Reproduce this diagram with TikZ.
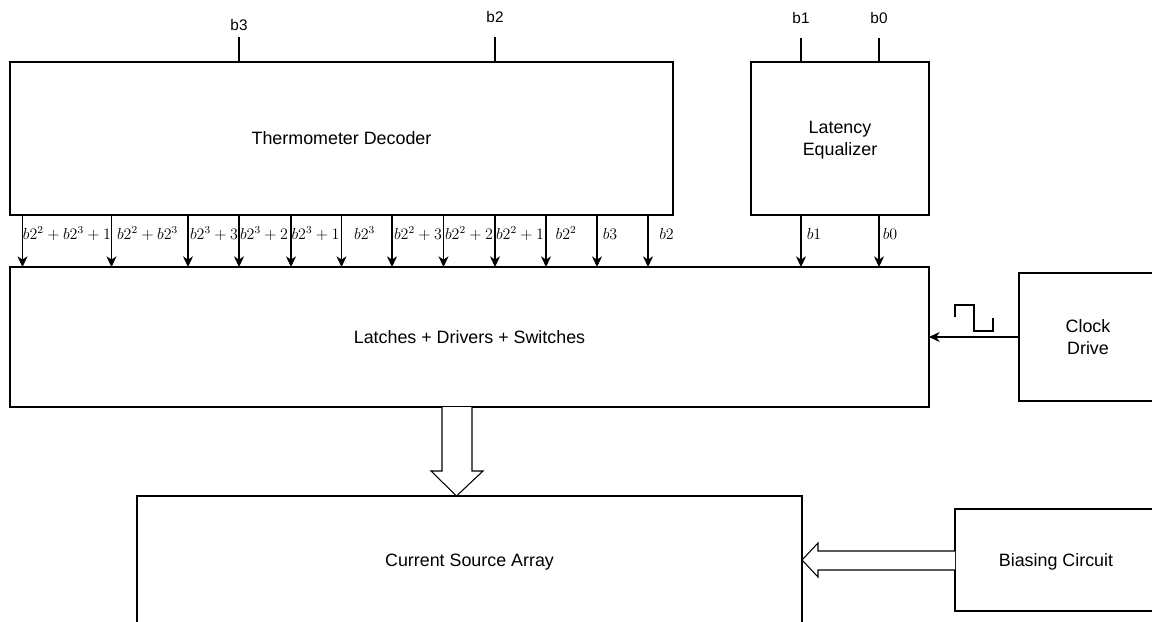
\documentclass[tikz,border=0pt]{standalone}
\usepackage{fontspec}
\setmainfont{Liberation Sans}
\usetikzlibrary{arrows.meta}
\begin{document}
\begin{tikzpicture}[x=0.75pt,y=-0.75pt,
  line width=0.8pt,
  box/.style={draw, rectangle, inner sep=0pt, outer sep=0pt, align=center,
    text depth=0pt, font=\fontsize{13.4}{16.5}\selectfont},
  sig/.style={-{Stealth[length=8pt,width=7.5pt,inset=2.5pt]}},
  inlab/.style={font=\fontsize{11.5}{13}\selectfont, inner sep=0pt},
  mlab/.style={font=\fontsize{11.7}{13}\selectfont, inner sep=0pt, anchor=base},
  fat/.style={draw, fill=white, line width=0.8pt}]
\clip (0,0) rectangle (1152,621);
\fill[white] (0,0) rectangle (1152,621);

% boxes
\node[box, minimum width=663*0.75pt, minimum height=153*0.75pt] (td) at (341.5,138.5) {Thermometer Decoder};
\node[box, minimum width=178*0.75pt, minimum height=153*0.75pt] (le) at (840,138.5) {Latency\\Equalizer};
\node[box, minimum width=919*0.75pt, minimum height=140*0.75pt] (ld) at (469.5,337) {Latches + Drivers + Switches};
\node[box, minimum width=138*0.75pt, minimum height=128*0.75pt] (cd) at (1088,337) {Clock\\Drive};
\node[box, minimum width=665*0.75pt, minimum height=128*0.75pt] (cs) at (469.5,560) {Current Source Array};
\node[box, minimum width=202*0.75pt, minimum height=102*0.75pt] (bc) at (1056,560) {Biasing Circuit};

% top inputs
\coordinate (i3) at (239,37);
\coordinate (i2) at (495,37);
\coordinate (i1) at (801,38);
\coordinate (i0) at (879,38);
\draw (i3) -- (i3 |- td.north);
\draw (i2) -- (i2 |- td.north);
\draw (i1) -- (i1 |- le.north);
\draw (i0) -- (i0 |- le.north);
\node[inlab] (t3) at (239,25) {b3};
\node[inlab] (t2) at (495,17.5) {b2};
\node[inlab] (t1) at (801,18) {b1};
\node[inlab] (t0) at (879,18) {b0};

% decoder outputs
\foreach \x/\lx/\l [count=\k] in {22.5/67/{b2^2+b2^3+1}, 111.5/147.5/{b2^2+b2^3}, 188/214/{b2^3+3},
  239/264/{b2^3+2}, 291/315.5/{b2^3+1}, 341.5/364.5/{b2^3}, 392/418/{b2^2+3},
  443.5/469/{b2^2+2}, 495/520/{b2^2+1}, 546/566/{b2^2}, 597/610/{b3}, 648/666.5/{b2}}{
  \coordinate (s\k) at (\x,0);
  \draw[sig] (s\k |- td.south) -- (s\k |- ld.north);
  \node[mlab] (m\k) at (\lx,239.5) {$\l$};
}
% equalizer outputs
\coordinate (e1) at (801,0);
\coordinate (e0) at (879,0);
\draw[sig] (e1 |- le.south) -- (e1 |- ld.north);
\draw[sig] (e0 |- le.south) -- (e0 |- ld.north);
\node[mlab] (mb1) at (814,239.5) {$b1$};
\node[mlab] (mb0) at (890,239.5) {$b0$};

% clock
\draw[sig] (cd.west) -- (ld.east);
\draw[line width=0.8pt] (955,317) -- (955,305) -- (974,305) -- (974,331) -- (993,331) -- (993,318);

% fat arrow down
\draw[fat] (442,407) -- (442,471) -- (431,471) -- (456.5,496) -- (483,471) -- (472,471) -- (472,407);
% fat arrow left
\draw[fat] (955,551) -- (818,551) -- (818,543) -- (802,560) -- (818,577) -- (818,570) -- (955,570);
\end{tikzpicture}
\end{document}
